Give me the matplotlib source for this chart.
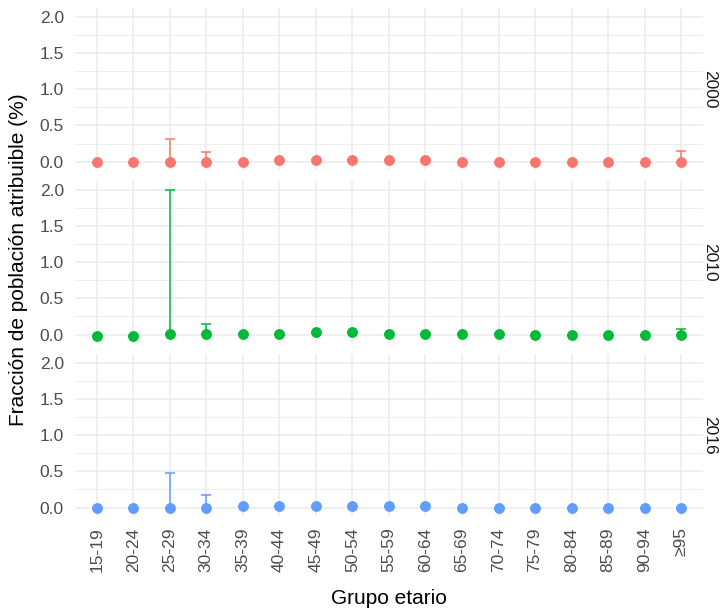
import matplotlib.pyplot as plt
import numpy as np

plt.rcParams['font.family'] = ['Liberation Sans', 'DejaVu Sans']

grupos = ['15-19', '20-24', '25-29', '30-34', '35-39', '40-44', '45-49', '50-54', '55-59',
          '60-64', '65-69', '70-74', '75-79', '80-84', '85-89', '90-94', '≥95']
anios = ['2000', '2010', '2016']
colores = ['#F8766D', '#00BA38', '#619CFF']

# fraccion atribuible (punto) y limite superior del intervalo
paf_2000 = [0.0, 0.0, 0.0, 0.0, 0.0, 0.02, 0.02, 0.02, 0.02, 0.02, 0.0, 0.0, 0.0, 0.0, 0.0, 0.0, 0.0]
sup_2000 = [0.0, 0.0, 0.31, 0.13, 0.0, 0.02, 0.02, 0.02, 0.02, 0.02, 0.0, 0.0, 0.0, 0.0, 0.0, 0.0, 0.15]
paf_2010 = [-0.02, -0.02, 0.01, 0.01, 0.01, 0.01, 0.03, 0.03, 0.01, 0.01, 0.01, 0.01, -0.01, -0.01, -0.01, -0.01, -0.01]
sup_2010 = [-0.02, -0.02, 2.0, 0.15, 0.01, 0.01, 0.03, 0.03, 0.01, 0.01, 0.01, 0.01, -0.01, -0.01, -0.01, -0.01, 0.08]
paf_2016 = [0.0, 0.0, 0.0, 0.0, 0.02, 0.02, 0.02, 0.02, 0.02, 0.02, 0.0, 0.0, 0.0, 0.0, 0.0, 0.0, 0.0]
sup_2016 = [0.0, 0.0, 0.48, 0.18, 0.02, 0.02, 0.02, 0.02, 0.02, 0.02, 0.0, 0.0, 0.0, 0.0, 0.0, 0.0, 0.0]

datos = [(paf_2000, sup_2000), (paf_2010, sup_2010), (paf_2016, sup_2016)]

fig, axes = plt.subplots(3, 1, figsize=(7.27, 6.11), dpi=100, sharex=True)
fig.subplots_adjust(left=0.103, right=0.967, top=0.987, bottom=0.155, hspace=0.065)

x = np.arange(len(grupos))
for ax, anio, col, (paf, sup) in zip(axes, anios, colores, datos):
    paf = np.array(paf)
    sup = np.array(sup)
    ax.errorbar(x, paf, yerr=[np.zeros_like(paf), sup - paf], fmt='none', ecolor=col,
                elinewidth=1.1, capsize=3.5, capthick=1.1, zorder=2)
    ax.plot(x, paf, 'o', color=col, markersize=6.8, zorder=3)
    ax.set_ylim(-0.12, 2.12)
    ax.set_xlim(-0.6, len(grupos) - 0.4)
    ax.set_yticks([0, 0.5, 1.0, 1.5, 2.0])
    ax.set_yticklabels(['0.0', '0.5', '1.0', '1.5', '2.0'])
    ax.set_yticks([0.25, 0.75, 1.25, 1.75], minor=True)
    ax.grid(True, which='major', color='#EBEBEB', linewidth=1.1, zorder=0)
    ax.grid(True, which='minor', axis='y', color='#EBEBEB', linewidth=0.6, zorder=0)
    ax.set_axisbelow(True)
    for s in ax.spines.values():
        s.set_visible(False)
    ax.tick_params(which='both', length=0, labelsize=12.5, labelcolor='#4D4D4D', pad=8)
    ax.text(0.998, 0.5, anio, transform=ax.transAxes, rotation=-90, va='center', ha='left',
            fontsize=12.5, color='#1A1A1A')

axes[-1].set_xticks(x)
axes[-1].set_xticklabels(grupos, rotation=90)
axes[-1].tick_params(axis='x', pad=8)
axes[-1].set_xlabel('Grupo etario', fontsize=15, labelpad=12)
fig.text(0.025, 0.575, 'Fracción de población atribuible (%)', rotation=90, va='center',
         ha='center', fontsize=15)

fig.savefig('out.png', dpi=100, facecolor='white')
